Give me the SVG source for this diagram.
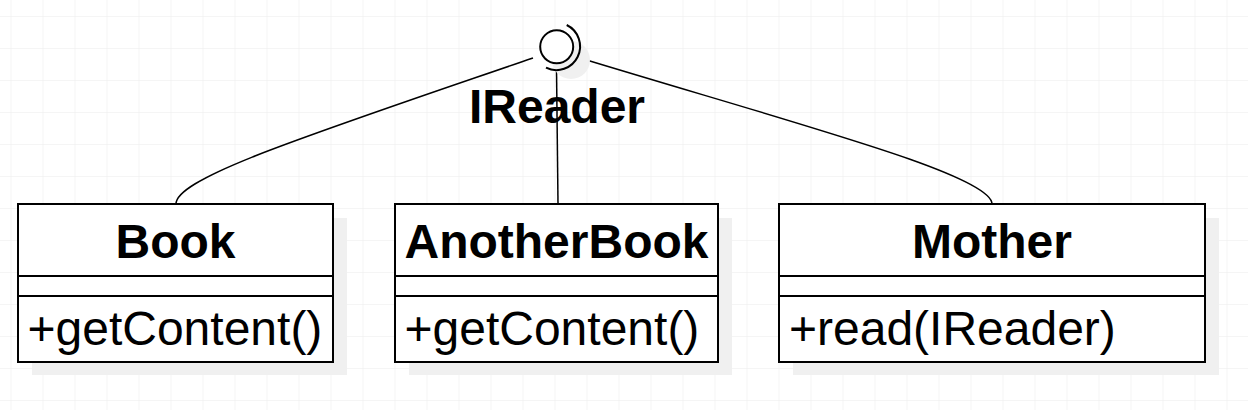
<svg xmlns="http://www.w3.org/2000/svg" width="1248" height="410" viewBox="0 0 1248 410">
<defs>
<pattern id="grid" x="10.5" y="16" width="32" height="32" patternUnits="userSpaceOnUse">
<path d="M0,0 H32 M0,0 V32" fill="none" stroke="#ececec" stroke-width="1"/>
</pattern>
<style>
.box{fill:#ffffff;stroke:#000000;stroke-width:2}
.shadow{fill:#f0f0f0;stroke:none}
.sep{stroke:#000000;stroke-width:2}
.title{font-family:"Liberation Sans",Arial,sans-serif;font-weight:bold;font-size:48px;text-anchor:middle;fill:#000}
.member{font-family:"Liberation Sans",Arial,sans-serif;font-size:48px;fill:#000}
.edge{fill:none;stroke:#000000;stroke-width:1.5}
</style>
</defs>
<rect width="1248" height="410" fill="#ffffff"/>
<rect width="1248" height="410" fill="url(#grid)"/>

<g id="connectors">
<path class="edge" d="M533,58 C300,138 176,178 176,204"/>
<path class="edge" d="M556.5,68 L558,204"/>
<path class="edge" d="M580,58 C800,125 992,175 992,204"/>
</g>

<g id="IReader">
<circle cx="571" cy="60" r="19" class="shadow"/>
<circle cx="556.7" cy="46.8" r="16.5" fill="#ffffff" stroke="#000" stroke-width="2"/>
<path d="M566.7,25 A23.5,23.5 0 1 1 546,67.7" fill="none" stroke="#000" stroke-width="2"/>
<text x="557" y="123" class="title">IReader</text>
</g>

<g id="Book">
<rect x="32" y="218" width="315" height="157" class="shadow"/>
<rect x="18" y="204" width="315" height="158" class="box"/>
<line x1="18" y1="276" x2="333" y2="276" class="sep"/>
<line x1="18" y1="296" x2="333" y2="296" class="sep"/>
<text x="175.5" y="258" class="title">Book</text>
<text x="27.5" y="345" class="member">+getContent()</text>
</g>

<g id="AnotherBook">
<rect x="409" y="218" width="323" height="157" class="shadow"/>
<rect x="395" y="204" width="323" height="158" class="box"/>
<line x1="395" y1="276" x2="718" y2="276" class="sep"/>
<line x1="395" y1="296" x2="718" y2="296" class="sep"/>
<text x="556.5" y="258" class="title">AnotherBook</text>
<text x="404.5" y="345" class="member">+getContent()</text>
</g>

<g id="Mother">
<rect x="793" y="218" width="426" height="157" class="shadow"/>
<rect x="779" y="204" width="426" height="158" class="box"/>
<line x1="779" y1="276" x2="1205" y2="276" class="sep"/>
<line x1="779" y1="296" x2="1205" y2="296" class="sep"/>
<text x="992" y="258" class="title">Mother</text>
<text x="789" y="345" class="member">+read(IReader)</text>
</g>
</svg>
